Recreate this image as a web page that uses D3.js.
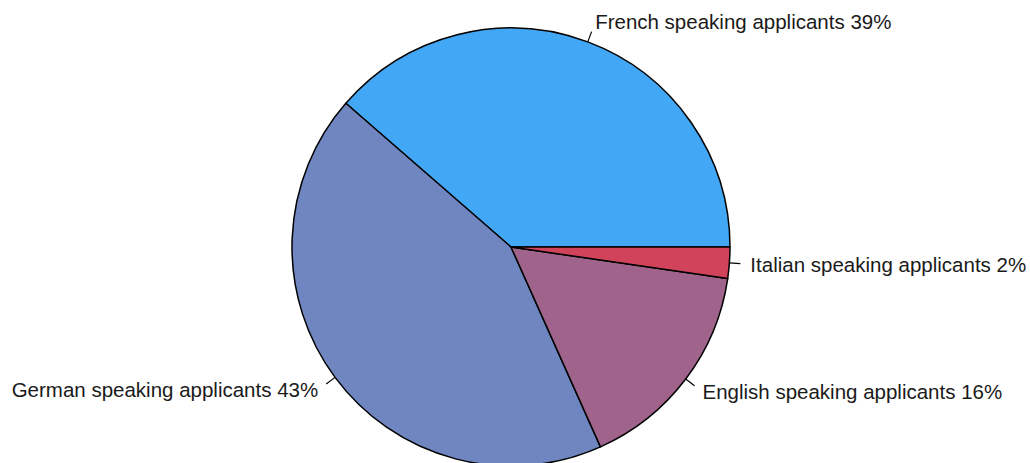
<!DOCTYPE html>
<html><head><meta charset="utf-8">
<script src="https://cdn.jsdelivr.net/npm/d3@7"></script>
<style>html,body{margin:0;padding:0;background:#fff;}svg{display:block;}</style>
</head><body>
<svg id="chart" width="1030" height="463"></svg>
<script>
const categories = ["French speaking applicants","German speaking applicants","English speaking applicants","Italian speaking applicants"];
const values = [38.6, 43.1, 16.0, 2.3];
const colors = ["#42A7F5","#6F86C0","#A0648C","#D0435A"];

const svg = d3.select("#chart");
const cx = 511, cy = 247, r = 219;
const g = svg.append("g").attr("transform", `translate(${cx},${cy})`);
const data = categories.map((c,i)=>({name:c, value:values[i], color:colors[i]}));
const total = d3.sum(values);
const pie = d3.pie().value(d=>d.value).sort(null).startAngle(Math.PI/2).endAngle(Math.PI/2 - 2*Math.PI);
const arcs = pie(data);
const arc = d3.arc().innerRadius(0).outerRadius(r);
g.selectAll("path.slice").data(arcs).join("path").attr("class","slice")
  .attr("d", arc).attr("fill", d=>d.data.color).attr("stroke","#000").attr("stroke-width",1.5).attr("stroke-linejoin","round");

function pt(a, rad){ return [Math.sin(a)*rad, -Math.cos(a)*rad]; }
arcs.forEach(d=>{
  const m = (d.startAngle + d.endAngle)/2;
  const p1 = pt(m, r), p2 = pt(m, r+11), p3 = pt(m, r+21);
  g.append("line").attr("x1",p1[0]).attr("y1",p1[1]).attr("x2",p2[0]).attr("y2",p2[1]).attr("stroke","#000").attr("stroke-width",1.2);
  g.append("text").attr("x",p3[0]).attr("y",p3[1]).attr("dy","0.35em")
    .attr("text-anchor", p3[0] >= 0 ? "start" : "end")
    .attr("font-family","Liberation Sans, Arial, sans-serif").attr("font-size",20.5).attr("fill","#1a1a1a")
    .text(`${d.data.name} ${Math.round(d.data.value/total*100)}%`);
});
</script>
</body></html>
